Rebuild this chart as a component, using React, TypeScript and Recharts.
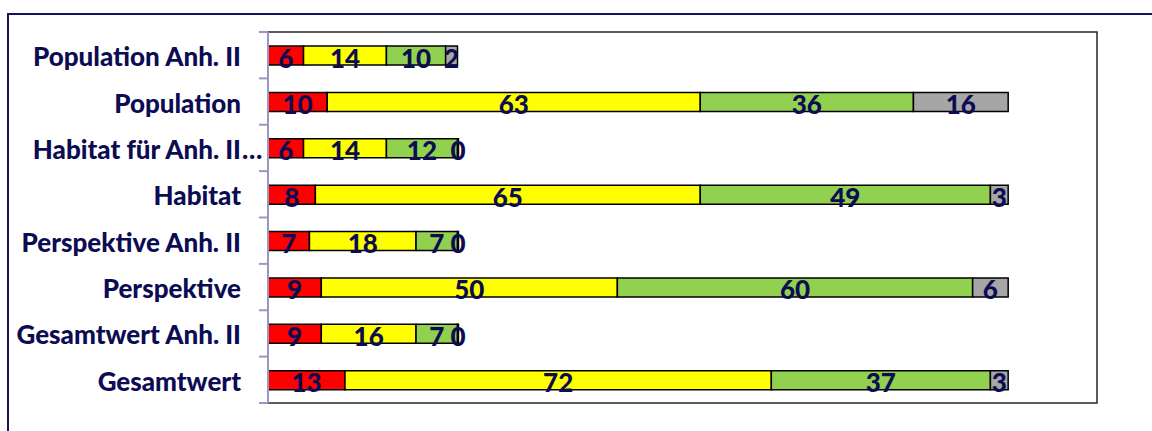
import React from 'react';
import { BarChart, Bar, XAxis, YAxis, LabelList, ReferenceArea } from 'recharts';

const kategorien = [
  'Population Anh. II',
  'Population',
  'Habitat für Anh. II…',
  'Habitat',
  'Perspektive Anh. II',
  'Perspektive',
  'Gesamtwert Anh. II',
  'Gesamtwert',
];
const rot = [6, 10, 6, 8, 7, 9, 9, 13];
const gelb = [14, 63, 14, 65, 18, 50, 16, 72];
const gruen = [10, 36, 12, 49, 7, 60, 7, 37];
const grau = [2, 16, 0, 3, 0, 6, 0, 3];
const xTicks = [0, 140];

const data = kategorien.map((name, i) => ({
  name,
  rot: rot[i],
  gelb: gelb[i],
  gruen: gruen[i],
  grau: grau[i],
}));

const navy = '#0c0c52';
const font = 'Lato, Calibri, sans-serif';
const axisColor = '#9797c6';
const fs = 26;
const fw = 900;

// category label on the left plus tick marks on the band edges
const KategorieTick = (props: any) => {
  const { x, y, payload, index, visibleTicksCount } = props;
  const half = payload && payload.offset ? payload.offset : 23.2;
  const label: string = payload.value;
  const ell = label.endsWith('…');
  const main = ell ? label.slice(0, -1) : label;
  const isLast = index === visibleTicksCount - 1;
  return (
    <g>
      <line x1={x - 9} x2={x} y1={y - half} y2={y - half} stroke={axisColor} strokeWidth={2} />
      {isLast && <line x1={x - 9} x2={x} y1={y + half} y2={y + half} stroke={axisColor} strokeWidth={2} />}
      <text
        x={x - 27}
        y={y + 1}
        textAnchor="end"
        dominantBaseline="central"
        fill={navy}
        fontFamily={font}
        fontWeight={fw}
        fontSize={fs}
      >
        {main}
      </text>
      {ell && (
        <text x={x - 26} y={y + 1} textAnchor="start" dominantBaseline="central" fill={navy} fontFamily={font} fontWeight={fw} fontSize={fs}>
          …
        </text>
      )}
    </g>
  );
};

const wertLabel = (props: any) => {
  const { x, y, width, height, value } = props;
  return (
    <text
      x={x + width / 2}
      y={y + height / 2 + 2}
      textAnchor="middle"
      dominantBaseline="central"
      fill={navy}
      fontFamily={font}
      fontWeight={fw}
      fontSize={fs}
    >
      {value}
    </text>
  );
};

const serien = [
  { key: 'rot', color: '#ff0000' },
  { key: 'gelb', color: '#ffff00' },
  { key: 'gruen', color: '#92d050' },
  { key: 'grau', color: '#a6a6a6' },
];

export default function App() {
  return (
    <div style={{ position: 'fixed', left: 0, top: 0, width: 1152, height: 431, overflow: 'hidden', background: '#fff' }}>
      <div
        style={{
          position: 'absolute',
          left: 7,
          top: 13,
          width: 1200,
          height: 500,
          borderLeft: '2px solid #14145a',
          borderTop: '2px solid #14145a',
        }}
      />
      <div style={{ position: 'absolute', left: 0, top: 0 }}>
        <BarChart
          width={1152}
          height={431}
          data={data}
          layout="vertical"
          margin={{ top: 32, right: 55, bottom: 28, left: 0 }}
          barCategoryGap={0}
        >
          <XAxis type="number" domain={[0, 140]} ticks={xTicks} hide />
          <ReferenceArea x1={0} x2={140} fill="none" stroke="#262626" strokeWidth={1.5} />
          <YAxis
            type="category"
            dataKey="name"
            width={268}
            axisLine={{ stroke: axisColor, strokeWidth: 2 }}
            tickLine={false}
            tickSize={0}
            tickMargin={0}
            interval={0}
            tick={<KategorieTick />}
          />
          {serien.map((s) => (
            <Bar
              key={s.key}
              dataKey={s.key}
              stackId="a"
              fill={s.color}
              stroke="#000"
              strokeWidth={1.5}
              barSize={19}
              minPointSize={s.key === 'grau' ? 1 : 0}
              isAnimationActive={false}
            >
              <LabelList dataKey={s.key} content={wertLabel} />
            </Bar>
          ))}
        </BarChart>
      </div>
    </div>
  );
}
